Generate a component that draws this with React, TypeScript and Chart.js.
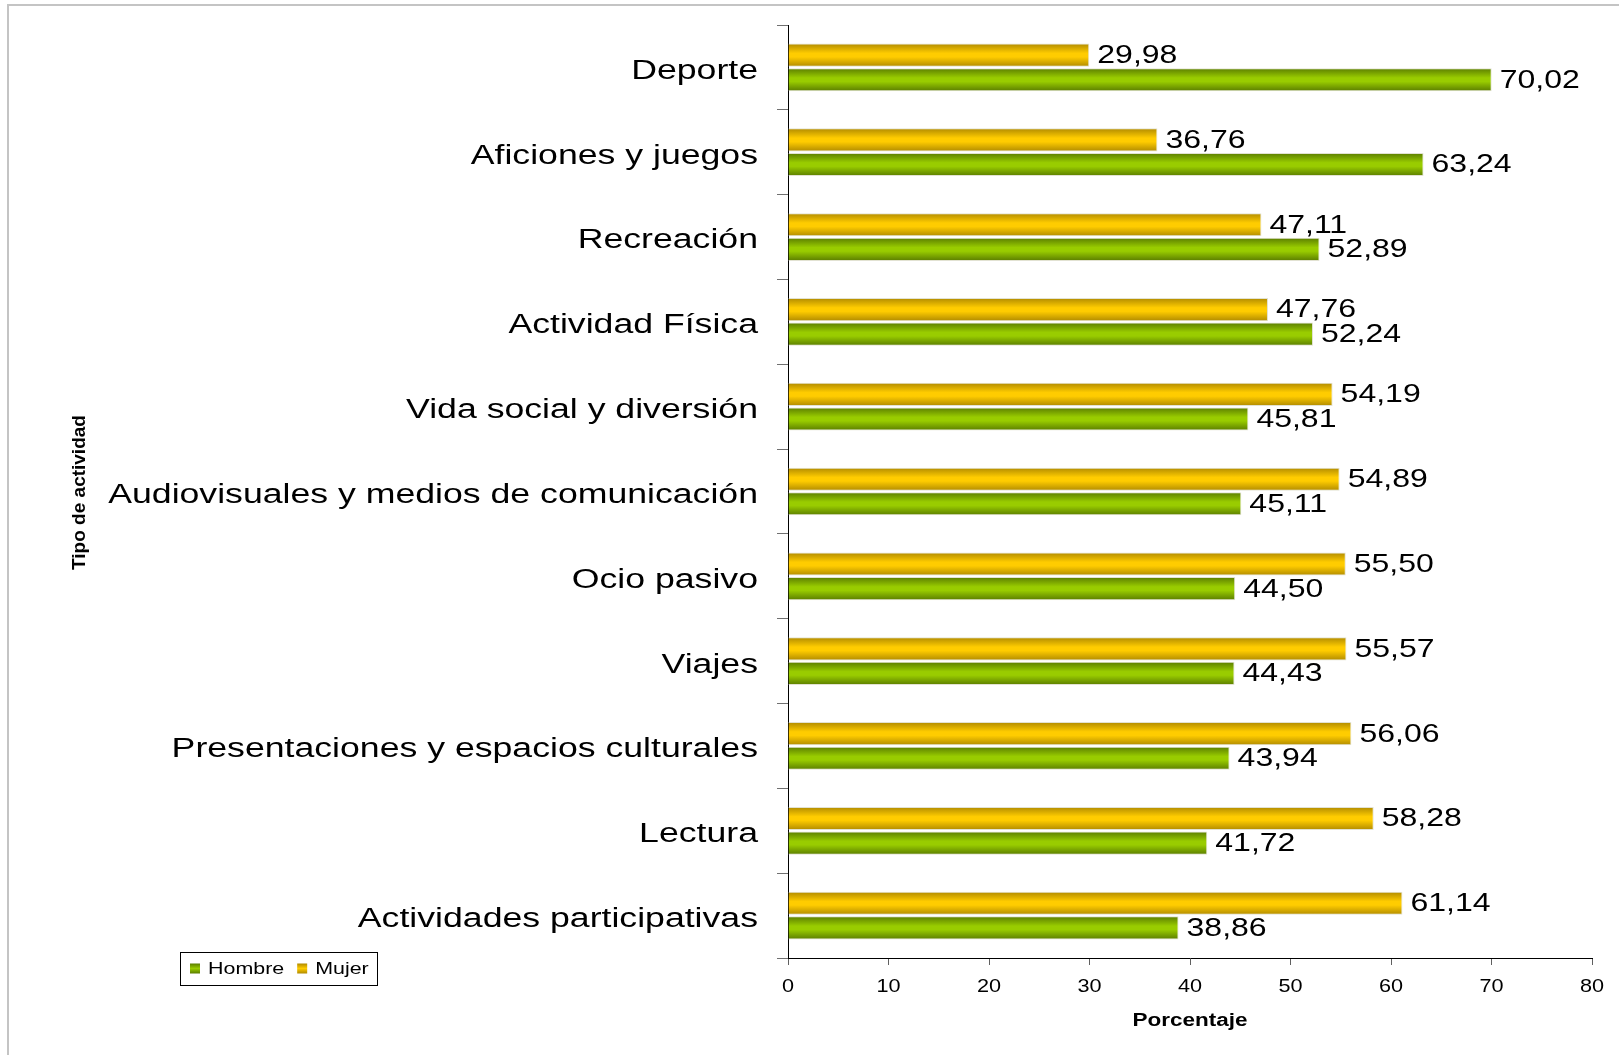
import React, { useEffect, useRef } from "react";
import { Chart, registerables } from "chart.js";

Chart.register(...registerables);

// ---- data ----
const categories = [
  "Deporte",
  "Aficiones y juegos",
  "Recreación",
  "Actividad Física",
  "Vida social y diversión",
  "Audiovisuales y medios de comunicación",
  "Ocio pasivo",
  "Viajes",
  "Presentaciones y espacios culturales",
  "Lectura",
  "Actividades participativas",
];
const mujer = [29.98, 36.76, 47.11, 47.76, 54.19, 54.89, 55.5, 55.57, 56.06, 58.28, 61.14];
const hombre = [70.02, 63.24, 52.89, 52.24, 45.81, 45.11, 44.5, 44.43, 43.94, 41.72, 38.86];
const xMin = 0;
const xMax = 80;
const xStep = 10;
const xTitle = "Porcentaje";
const yTitle = "Tipo de actividad";
const legendOrder = ["Hombre", "Mujer"];

// ---- style ----
const FONT = '"Liberation Sans", Arial, Helvetica, sans-serif';
const CAT_PCT = 0.58;
const BAR_PCT = 0.94;
const YELLOW_LIGHT = "#ffcc00";
const YELLOW_DARK = "#b08a00";
const GREEN_LIGHT = "#99cc00";
const GREEN_DARK = "#5a7c00";

function stretchedText(
  ctx: CanvasRenderingContext2D,
  text: string,
  x: number,
  y: number,
  font: string,
  sx: number,
  align: CanvasTextAlign
) {
  ctx.save();
  ctx.font = font;
  ctx.textAlign = align;
  ctx.textBaseline = "middle";
  ctx.fillStyle = "#000";
  ctx.translate(x, y);
  ctx.scale(sx, 1);
  ctx.fillText(text, 0, 0);
  ctx.restore();
}

function barFill(light: string, dark: string, dsIdx: number) {
  return (c: any) => {
    const chart = c.chart;
    const y = chart.scales && chart.scales.y;
    if (!y || c.type !== "data" || !chart.chartArea) return light;
    const n = chart.data.labels.length;
    const band = y.height / n;
    const size = band * CAT_PCT;
    const center = y.getPixelForValue(c.dataIndex) - size / 2 + (size / 2) * (dsIdx + 0.5);
    const thick = (size / 2) * BAR_PCT;
    const g = chart.ctx.createLinearGradient(0, center - thick / 2, 0, center + thick / 2);
    g.addColorStop(0, dark);
    g.addColorStop(0.42, light);
    g.addColorStop(0.58, light);
    g.addColorStop(1, dark);
    return g;
  };
}

const fmt = (v: number) => v.toFixed(2).replace(".", ",");

const textPlugin = {
  id: "customText",
  afterDraw(chart: any) {
    const ctx: CanvasRenderingContext2D = chart.ctx;
    const y = chart.scales.y;
    const x = chart.scales.x;
    const area = chart.chartArea;

    // category labels
    y.ticks.forEach((_t: any, i: number) => {
      const py = y.getPixelForTick(i);
      stretchedText(ctx, String(chart.data.labels[i]), area.left - 30, py + 4, `27px ${FONT}`, 1.32, "right");
    });

    // x tick labels
    x.ticks.forEach((t: any, i: number) => {
      stretchedText(ctx, String(t.value), x.getPixelForTick(i), area.bottom + 29, `19px ${FONT}`, 1.14, "center");
    });

    // x title
    stretchedText(ctx, xTitle, (area.left + area.right) / 2, area.bottom + 63, `bold 18px ${FONT}`, 1.25, "center");

    // y title
    ctx.save();
    ctx.translate(80, (area.top + area.bottom) / 2 + 1);
    ctx.rotate(-Math.PI / 2);
    ctx.font = `bold 19px ${FONT}`;
    ctx.textAlign = "center";
    ctx.textBaseline = "middle";
    ctx.fillStyle = "#000";
    ctx.fillText(yTitle, 0, 0);
    ctx.restore();

    // data labels
    chart.data.datasets.forEach((ds: any, di: number) => {
      const meta = chart.getDatasetMeta(di);
      meta.data.forEach((el: any, i: number) => {
        stretchedText(ctx, fmt(ds.data[i]), el.x + 8, el.y + 1, `25px ${FONT}`, 1.28, "left");
      });
    });

    // legend (box)
    const lx = 180;
    const ly = area.bottom - 6;
    const lw = 197;
    const lh = 33;
    ctx.save();
    ctx.fillStyle = "#fff";
    ctx.fillRect(lx, ly, lw, lh);
    ctx.strokeStyle = "#000";
    ctx.lineWidth = 1;
    ctx.strokeRect(lx + 0.5, ly + 0.5, lw, lh);
    ctx.restore();
    let cx = lx + 10;
    const cy = ly + lh / 2;
    legendOrder.forEach((name) => {
      const ds = chart.data.datasets.find((d: any) => d.label === name);
      const isGreen = name === "Hombre";
      ctx.save();
      const g = ctx.createLinearGradient(0, cy - 5, 0, cy + 5);
      g.addColorStop(0, isGreen ? GREEN_DARK : YELLOW_DARK);
      g.addColorStop(0.5, isGreen ? GREEN_LIGHT : YELLOW_LIGHT);
      g.addColorStop(1, isGreen ? GREEN_DARK : YELLOW_DARK);
      ctx.fillStyle = g;
      ctx.fillRect(cx, cy - 5, 10, 10);
      ctx.restore();
      stretchedText(ctx, ds ? ds.label : name, cx + 18, cy + 1, `17px ${FONT}`, 1.26, "left");
      ctx.save();
      ctx.font = `17px ${FONT}`;
      const w = ctx.measureText(name).width * 1.26;
      ctx.restore();
      cx += 18 + w + 13;
    });
  },
};

export default function App() {
  const ref = useRef<HTMLCanvasElement>(null);

  useEffect(() => {
    if (!ref.current) return;
    const chart = new Chart(ref.current, {
      type: "bar",
      data: {
        labels: categories,
        datasets: [
          {
            label: "Mujer",
            data: mujer,
            backgroundColor: barFill(YELLOW_LIGHT, YELLOW_DARK, 0),
            borderColor: "#e2e2d2",
            borderWidth: 1,
            categoryPercentage: CAT_PCT,
            barPercentage: BAR_PCT,
          },
          {
            label: "Hombre",
            data: hombre,
            backgroundColor: barFill(GREEN_LIGHT, GREEN_DARK, 1),
            borderColor: "#e2e2d2",
            borderWidth: 1,
            categoryPercentage: CAT_PCT,
            barPercentage: BAR_PCT,
          },
        ],
      },
      options: {
        indexAxis: "y",
        responsive: false,
        animation: false,
        layout: { padding: { left: 60, top: 25, right: 27, bottom: 0 } },
        plugins: {
          legend: { display: false },
          tooltip: { enabled: false },
        },
        scales: {
          x: {
            type: "linear",
            min: xMin,
            max: xMax,
            ticks: { display: false, stepSize: xStep },
            grid: { drawOnChartArea: false, drawTicks: true, tickLength: 7, color: "#606060", lineWidth: 1 },
            border: { color: "#000", width: 1 },
            afterFit: (s: any) => {
              s.height = 97;
            },
          },
          y: {
            type: "category",
            ticks: { display: false },
            grid: { drawOnChartArea: false, drawTicks: true, tickLength: 11, color: "#707070", lineWidth: 1, offset: true },
            border: { color: "#000", width: 1 },
            afterFit: (s: any) => {
              s.width = 728;
            },
          },
        },
      } as any,
      plugins: [textPlugin],
    });
    return () => chart.destroy();
  }, []);

  return (
    <div
      style={{
        position: "fixed",
        left: 0,
        top: 0,
        width: 1619,
        height: 1055,
        overflow: "hidden",
        background: "#fff",
      }}
    >
      <div
        style={{
          position: "absolute",
          left: 7,
          top: 4,
          width: 1700,
          height: 1100,
          borderTop: "2px solid #c4c4c4",
          borderLeft: "2px solid #c4c4c4",
        }}
      />
      <canvas
        ref={ref}
        width={1619}
        height={1055}
        style={{ position: "absolute", left: 0, top: 0, width: 1619, height: 1055 }}
      />
    </div>
  );
}
